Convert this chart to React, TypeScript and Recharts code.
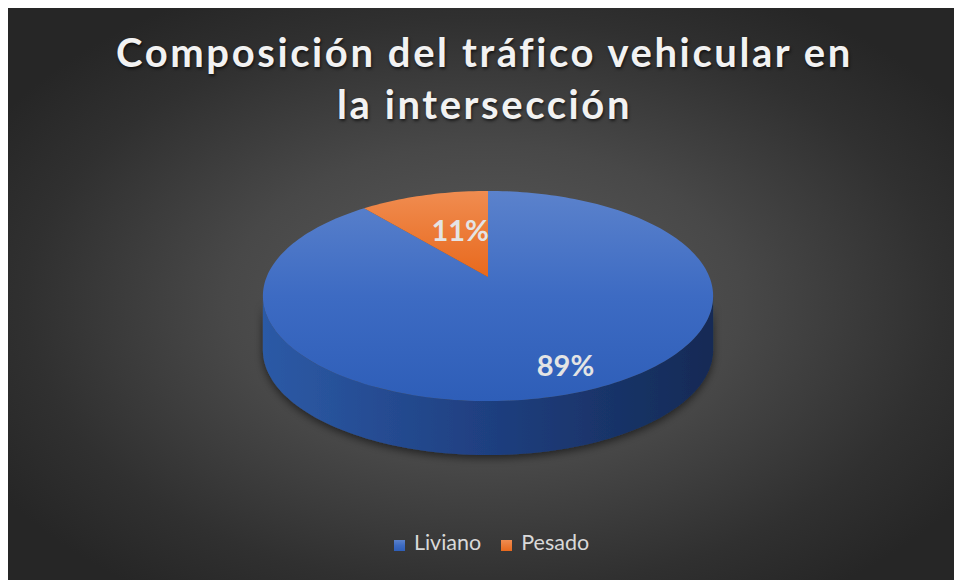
import React from 'react';
import { PieChart, Pie, Cell, Legend } from 'recharts';

// ---- data ----
const categories = ['Liviano', 'Pesado'];
const values = [89, 11];
const titleLines = ['Composición del tráfico vehicular en', 'la intersección'];

const data = categories.map((name, i) => ({ name, value: values[i] }));

// ---- style ----
const W = 953;
const H = 574;
const TOP_FILLS = ['url(#top0)', 'url(#top1)'];
const SIDE_FILLS = ['url(#side0)', 'url(#side1)'];
const LABEL_RADIUS = [0.8, 0.52];

// perspective parameters
const K = 0.181;
const TILT = 0.459;
const DEPTH_RATIO = 0.244;
const SIL = (Math.asin(K) * 180) / Math.PI;

function proj(cx: number, cy: number, r: number, deg: number, f = 1): [number, number] {
  const a = (deg * Math.PI) / 180;
  const u = Math.cos(a);
  const v = Math.sin(a);
  const d = 1 + K * f * v;
  return [cx + (r * f * u) / d, cy - (r * TILT * f * v) / d];
}

function arc(cx: number, cy: number, r: number, a1: number, a2: number, dy = 0) {
  const n = Math.max(2, Math.ceil(Math.abs(a2 - a1) / 1.5));
  const pts: string[] = [];
  for (let i = 0; i <= n; i++) {
    const [x, y] = proj(cx, cy, r, a1 + ((a2 - a1) * i) / n);
    pts.push(`${x.toFixed(2)},${(y + dy).toFixed(2)}`);
  }
  return pts;
}

const SliceShape = (props: any) => {
  const { cx, cy, outerRadius, startAngle, endAngle } = props;
  const name = props.name ?? props.payload?.name;
  const idx = Math.max(0, categories.indexOf(name));
  const r = outerRadius;
  const depth = r * DEPTH_RATIO;
  const lo = Math.min(startAngle, endAngle);
  const hi = Math.max(startAngle, endAngle);
  const sides: string[] = [];
  for (const s of [-360, 0, 360]) {
    const a = Math.max(lo, -180 + SIL + s);
    const b = Math.min(hi, -SIL + s);
    if (a < b) {
      const top = arc(cx, cy, r, a, b);
      const bot = arc(cx, cy, r, b, a, depth);
      sides.push(`M${top.join('L')}L${bot.join('L')}Z`);
    }
  }
  const topPts = arc(cx, cy, r, startAngle, endAngle);
  const topPath = `M${cx},${cy}L${topPts.join('L')}Z`;
  return (
    <g>
      {sides.map((d, i) => (
        <path key={i} d={d} fill={SIDE_FILLS[idx]} filter="url(#pieShadow)" />
      ))}
      <path d={topPath} fill={TOP_FILLS[idx]} />
    </g>
  );
};

const renderLabel = (props: any) => {
  const { cx, cy, outerRadius, midAngle, percent } = props;
  const name = props.name ?? props.payload?.name;
  const idx = Math.max(0, categories.indexOf(name));
  const [x, y] = proj(cx, cy, outerRadius, midAngle, LABEL_RADIUS[idx]);
  return (
    <text
      x={x + 8}
      y={y + 10}
      textAnchor="middle"
      fill="#e4e4e4"
      fontSize={29}
      fontWeight="bold"
      fontFamily="Lato, sans-serif"
    >
      {`${Math.round(percent * 100)}%`}
    </text>
  );
};

export default function App() {
  return (
    <div
      style={{
        position: 'relative',
        width: W,
        height: H,
        marginTop: -2,
        fontFamily: 'Lato, sans-serif',
        background:
          'radial-gradient(ellipse 60% 62% at 50% 52%, #5c5c5c 0%, #484848 45%, #303030 80%, #262626 100%)',
        overflow: 'hidden',
      }}
    >
      <svg width={0} height={0} style={{ position: 'absolute' }}>
        <defs>
          <linearGradient id="top0" x1="0" y1="0" x2="0" y2="1">
            <stop offset="0%" stopColor="#5b82cc" />
            <stop offset="50%" stopColor="#3d6bc3" />
            <stop offset="100%" stopColor="#2e5eb8" />
          </linearGradient>
          <linearGradient id="top1" x1="0" y1="0" x2="0" y2="1">
            <stop offset="0%" stopColor="#f08c50" />
            <stop offset="100%" stopColor="#e8691d" />
          </linearGradient>
          <linearGradient id="side0" x1="0" y1="0" x2="1" y2="0">
            <stop offset="0%" stopColor="#2c5aa6" />
            <stop offset="50%" stopColor="#1f3f80" />
            <stop offset="100%" stopColor="#142a55" />
          </linearGradient>
          <linearGradient id="side1" x1="0" y1="0" x2="1" y2="0">
            <stop offset="0%" stopColor="#b85a1c" />
            <stop offset="100%" stopColor="#7a3a10" />
          </linearGradient>
          <filter id="pieShadow" x="-10%" y="-20%" width="120%" height="160%">
            <feDropShadow dx="0" dy="3" stdDeviation="4" floodColor="#000" floodOpacity="0.55" />
          </filter>
        </defs>
      </svg>
      <div
        style={{
          position: 'absolute',
          top: 20,
          left: 0,
          width: W,
          textAlign: 'center',
          color: '#f2f2f2',
          fontSize: 40,
          fontWeight: 'bold',
          lineHeight: '52px',
          letterSpacing: 2.6,
          textShadow: '1px 2px 3px rgba(0,0,0,0.6)',
          zIndex: 2,
        }}
      >
        {titleLines.map((t, i) => (
          <div key={i}>{t}</div>
        ))}
      </div>
      <PieChart width={W} height={H} margin={{ top: 0, right: 0, bottom: 0, left: 0 }}>
        <Pie
          data={data}
          dataKey="value"
          nameKey="name"
          cx={480}
          cy={271}
          outerRadius={221.4}
          startAngle={90}
          endAngle={-270}
          stroke="none"
          shape={SliceShape}
          label={renderLabel}
          labelLine={false}
          isAnimationActive={false}
        >
          {data.map((d, i) => (
            <Cell key={d.name} fill={TOP_FILLS[i]} />
          ))}
        </Pie>
        <Legend
          verticalAlign="bottom"
          iconType="square"
          iconSize={11}
          wrapperStyle={{ top: 523, left: 17 }}
          formatter={(v: any) => (
            <span style={{ color: '#d9d9d9', fontSize: 21.5, marginLeft: 5, marginRight: 10 }}>{v}</span>
          )}
        />
      </PieChart>
    </div>
  );
}
